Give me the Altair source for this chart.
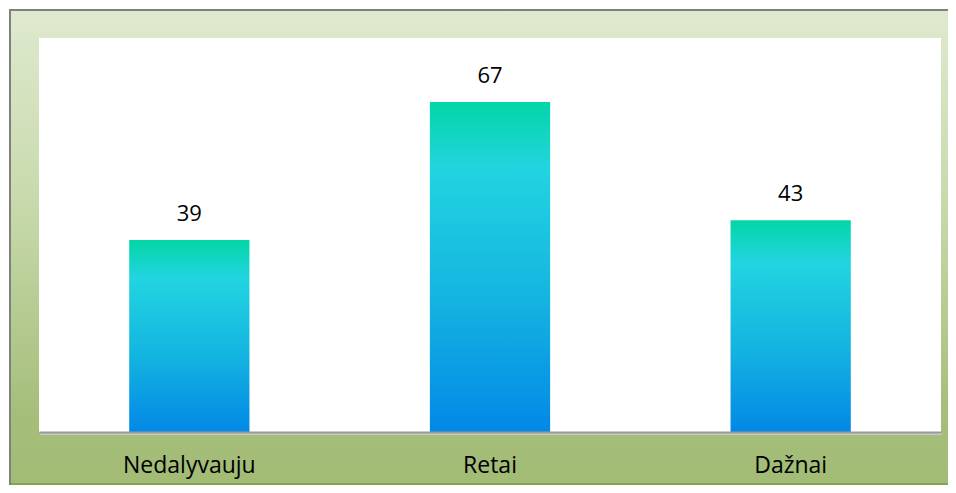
import altair as alt
import pandas as pd

categories = ["Nedalyvauju", "Retai", "Dažnai"]
values = [39, 67, 43]

df = pd.DataFrame({"cat": categories, "val": values})

W, H = 902, 394
PL, PT, PR, PB = 31, 30, 7, 53

bg = alt.Chart(pd.DataFrame({"a": [0]})).mark_rect(
    fill=alt.Gradient(gradient="linear", x1=0, x2=0, y1=0, y2=1,
                      stops=[alt.GradientStop(color="#DFE9CF", offset=0),
                             alt.GradientStop(color="#C8DAAC", offset=0.4),
                             alt.GradientStop(color="#A5BE7A", offset=0.85),
                             alt.GradientStop(color="#A2BB75", offset=1)]),
    clip=False,
).encode(x=alt.value(-PL + 2), x2=alt.value(W + PR), y=alt.value(-PT + 2), y2=alt.value(H + PB))

bottom_line = alt.Chart(pd.DataFrame({"a": [0]})).mark_rule(color="#7FA552", strokeWidth=2).encode(
    x=alt.value(-PL + 2), x2=alt.value(W + PR), y=alt.value(H + PB - 1))
left_line = alt.Chart(pd.DataFrame({"a": [0]})).mark_rule(color="#808080", strokeWidth=2).encode(
    x=alt.value(-PL + 2), y=alt.value(-PT + 1), y2=alt.value(H + PB))
top_line = alt.Chart(pd.DataFrame({"a": [0]})).mark_rule(color="#808080", strokeWidth=2).encode(
    x=alt.value(-PL + 1), x2=alt.value(W + PR), y=alt.value(-PT + 2))

plot_bg = alt.Chart(pd.DataFrame({"a": [0]})).mark_rect(fill="white").encode(
    x=alt.value(0), x2=alt.value(W), y=alt.value(0), y2=alt.value(H))

shadow = alt.Chart(pd.DataFrame({"a": [0]})).mark_rule(color="#C8C8C8", strokeWidth=2).encode(
    x=alt.value(1), x2=alt.value(W + 1), y=alt.value(H + 2))

xenc = alt.X("cat:N", sort=categories,
             scale=alt.Scale(paddingInner=0.6, paddingOuter=0.3),
             axis=alt.Axis(title=None, labelAngle=0, ticks=False, labelPadding=22,
                           labelFontSize=23, labelFont="Open Sans", labelColor="#000000",
                           labelFontWeight="normal",
                           domainColor="#9A9A9A", domainWidth=2, labelBaseline="top",
                           zindex=2))
yenc = alt.Y("val:Q", scale=alt.Scale(domain=[0, 80]), axis=None)

bars = alt.Chart(df).mark_bar(
    fill=alt.Gradient(gradient="linear", x1=0, x2=0, y1=0, y2=1,
                      stops=[alt.GradientStop(color="#03D6A6", offset=0),
                             alt.GradientStop(color="#22D4E0", offset=0.2),
                             alt.GradientStop(color="#14B4E0", offset=0.6),
                             alt.GradientStop(color="#0388E6", offset=1)]),
).encode(x=xenc, y=yenc)

labels = alt.Chart(df).mark_text(
    font="Open Sans", fontSize=22, color="#000000", dy=-19, baseline="alphabetic"
).encode(x=alt.X("cat:N", sort=categories), y="val:Q", text="val:Q")

chart = alt.layer(bg, bottom_line, left_line, top_line, plot_bg, shadow, bars, labels).properties(
    width=W, height=H,
    autosize=alt.AutoSizeParams(type="none"),
    padding={"left": PL, "top": PT, "right": PR, "bottom": PB},
).configure_view(stroke=None)

chart.save("out.html", embed_options={"renderer": "svg", "actions": False})
